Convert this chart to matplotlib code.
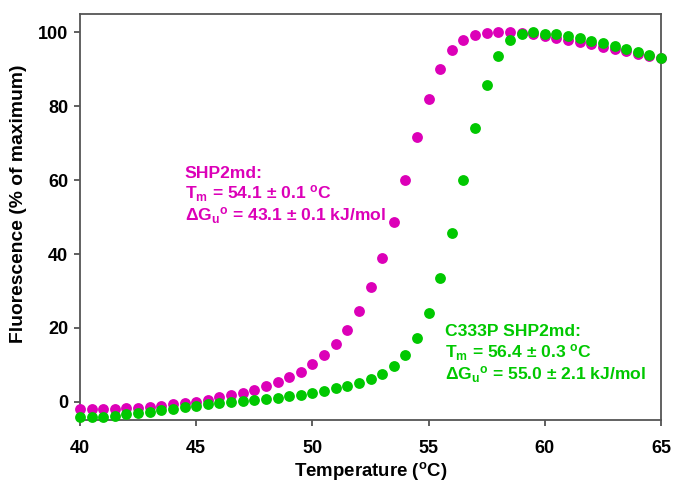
import numpy as np
import matplotlib
matplotlib.use("Agg")
import matplotlib.pyplot as plt

plt.rcParams["font.family"] = ["Liberation Sans", "DejaVu Sans"]
plt.rcParams["mathtext.fontset"] = "custom"
plt.rcParams["mathtext.rm"] = "Liberation Sans:bold"
plt.rcParams["mathtext.bf"] = "Liberation Sans:bold"
plt.rcParams["mathtext.it"] = "Liberation Sans:bold"

MAGENTA = "#dc00b8"
GREEN = "#00c800"

temp = np.arange(40.0, 65.01, 0.5)

wt = [-1.9, -2.0, -2.0, -1.9, -1.8, -1.6, -1.4, -1.0, -0.7, -0.3,
      0.0, 0.6, 1.3, 1.8, 2.4, 3.3, 4.2, 5.3, 6.7, 8.1,
      10.3, 12.6, 15.7, 19.5, 24.5, 31.0, 38.9, 48.8, 60.1, 71.8,
      82.1, 90.1, 95.2, 97.9, 99.4, 99.9, 100.0, 100.0, 99.8, 99.5,
      99.0, 98.6, 98.0, 97.4, 96.8, 96.2, 95.5, 95.0, 94.3, 93.6,
      93.0]

c333p = [-4.2, -4.2, -4.0, -3.7, -3.3, -3.0, -2.7, -2.3, -1.9, -1.5,
         -1.0, -0.6, -0.2, 0.0, 0.3, 0.6, 0.9, 1.1, 1.5, 1.9,
         2.4, 3.0, 3.7, 4.4, 5.2, 6.3, 7.6, 9.6, 12.6, 17.2,
         24.0, 33.5, 45.8, 60.1, 74.2, 85.9, 93.7, 97.9, 99.7, 100.0,
         99.7, 99.5, 99.1, 98.5, 97.8, 97.2, 96.4, 95.6, 94.7, 93.9,
         93.0]

wt_lines = ["SHP2md:", "T$_{m}$ = 54.1 ± 0.1 $^{o}$C", "$\\Delta$G$_{u}$$^{o}$ = 43.1 ± 0.1 kJ/mol"]
mut_lines = ["C333P SHP2md:", "T$_{m}$ = 56.4 ± 0.3 $^{o}$C", "$\\Delta$G$_{u}$$^{o}$ = 55.0 ± 2.1 kJ/mol"]

fig = plt.figure(figsize=(6.73, 4.83), dpi=100)
ax = fig.add_axes([0.1189, 0.1298, 0.8633, 0.8412])

ax.plot(temp, wt, "o", color=MAGENTA, ms=7.8, mec="none", clip_on=False, zorder=3)
ax.plot(temp, c333p, "o", color=GREEN, ms=7.8, mec="none", clip_on=False, zorder=4)

ax.set_xlim(40, 65)
ax.set_ylim(-5, 105)
ax.set_xticks([40, 45, 50, 55, 60, 65])
ax.set_yticks([0, 20, 40, 60, 80, 100])
ax.tick_params(direction="out", length=4.5, width=1.2, color="#444444",
               labelsize=13, top=False, right=False)
ax.tick_params(axis="x", pad=10)
ax.tick_params(axis="y", pad=4)
for t in ax.get_xticklabels() + ax.get_yticklabels():
    t.set_fontweight("bold")
for s in ax.spines.values():
    s.set_color("#555555")
    s.set_linewidth(1.3)

ax.set_xlabel("Temperature ($^{o}$C)", fontsize=13.4, fontweight="bold", labelpad=1.5)
ax.set_ylabel("Fluorescence (% of maximum)", fontsize=13.9, fontweight="bold")
ax.yaxis.set_label_coords(-0.092, 0.532)

# three lines each, baselines ~21.7 px apart
for txt, y in zip(wt_lines, [60.7, 54.9, 49.0]):
    ax.text(44.5, y, txt, color=MAGENTA, fontsize=12.6, fontweight="bold", ha="left", va="baseline")
for txt, y in zip(mut_lines, [17.7, 11.9, 6.1]):
    ax.text(55.72, y, txt, color=GREEN, fontsize=12.6, fontweight="bold", ha="left", va="baseline")

fig.savefig("out.png", dpi=100)
